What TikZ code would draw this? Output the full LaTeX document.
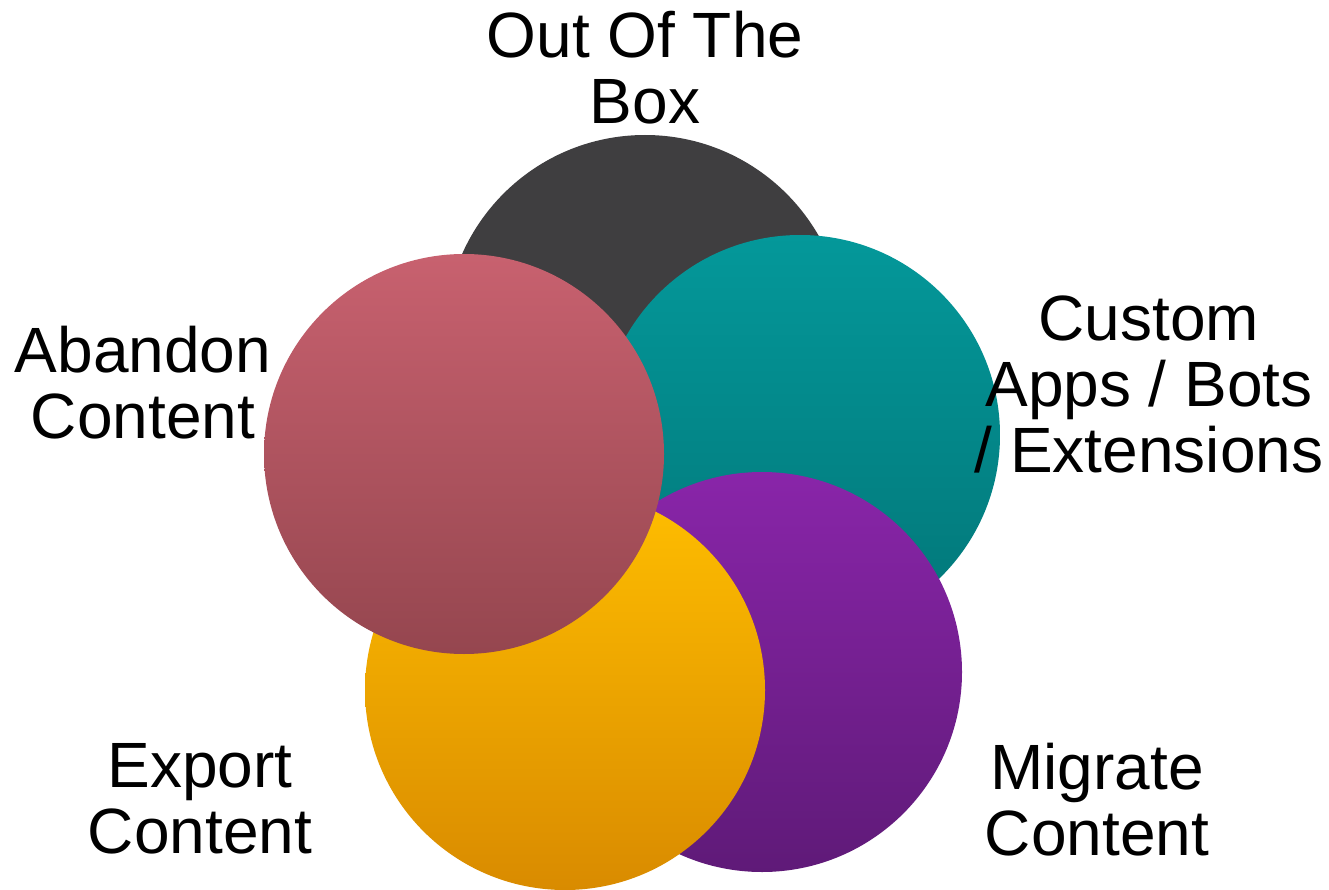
\documentclass[tikz,border=0pt]{standalone}
\usepackage{fontspec}
\setmainfont{Liberation Sans}
\usetikzlibrary{positioning}
\definecolor{boxgray}{HTML}{3F3E40}
\definecolor{tealtop}{HTML}{04989A}
\definecolor{tealbot}{HTML}{027678}
\definecolor{plumtop}{HTML}{8925A9}
\definecolor{plumbot}{HTML}{5F1A78}
\definecolor{ambertop}{HTML}{FFBE00}
\definecolor{amberbot}{HTML}{D98B00}
\definecolor{rosetop}{HTML}{C8616F}
\definecolor{rosebot}{HTML}{95464F}
\tikzset{
    x=1pt, y=-1pt, % pixel units, y pointing down
    option/.style={circle, minimum size=400pt, inner sep=0pt, draw=none}, % the big discs
    caption/.style={font=\fontsize{64}{66}\selectfont, align=center, anchor=north, inner sep=0pt}, % the labels
    }
\begin{document}
\begin{tikzpicture}
\useasboundingbox (0,0) rectangle (1329,890);

\node[option, fill=boxgray] (ootb) at (645,335) {};
\node[option, top color=tealtop, bottom color=tealbot] (custom) at (800,435) {};
\node[option, top color=plumtop, bottom color=plumbot] (migrate) at (762,672) {};
\node[option, top color=ambertop, bottom color=amberbot] (export) at (565,690) {};
\node[option, top color=rosetop, bottom color=rosebot] (abandon) at (464,454) {};

\node[caption] (ootbtext) at (645,11) {Out Of The\\Box};
\node[caption] (customtext) at (1149,296) {Custom\\Apps / Bots\\/ Extensions};
\node[caption] (abandontext) at (143,326) {Abandon\\Content};
\node[caption] (exporttext) at (200,743) {Export\\Content};
\node[caption] (migratetext) at (1097,743) {Migrate\\Content};

\end{tikzpicture}
\end{document}
